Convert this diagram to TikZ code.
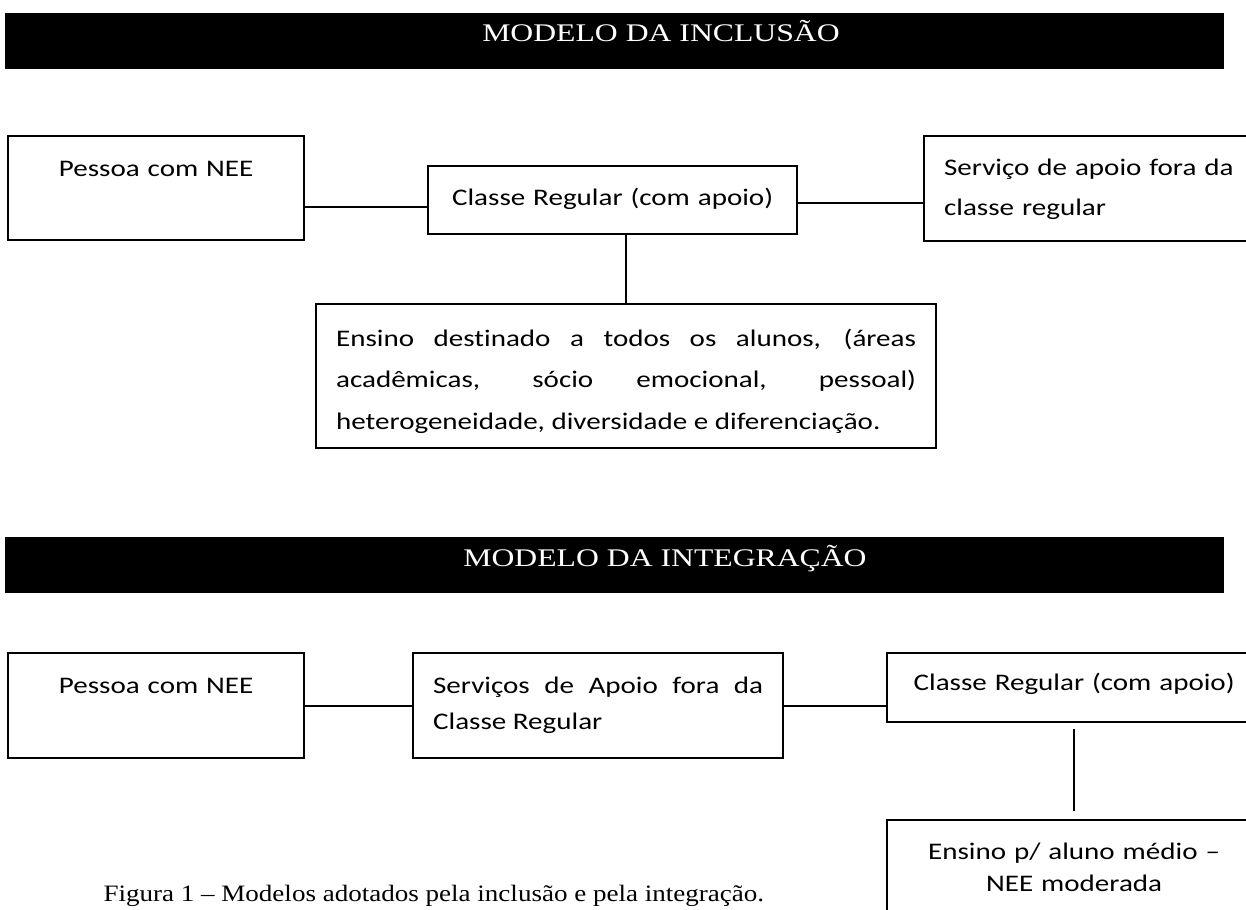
\documentclass[tikz,border=0pt]{standalone}
\usepackage{fontspec}
\setmainfont{Liberation Serif}[FakeStretch=1.25]
\newfontfamily\legfont{Liberation Serif}[FakeStretch=1.15]
\newfontfamily\calibri{Carlito}[FakeStretch=1.222, Ligatures=NoCommon]
\usepackage{tikz}
\newlength{\pxl}
\setlength{\pxl}{0.3786pt}
\hyphenpenalty=10000
\tolerance=9999

\tikzset{
	caixa/.style={draw, line width=0.85pt, inner sep=0pt, anchor=north west, font=\calibri\fontsize{9}{15.1}\selectfont},
	linha/.style={line width=0.85pt},
	fina/.style={line width=0.5pt},
	faixa/.style={fill=black, inner sep=0pt, anchor=north west, minimum width=1219\pxl, minimum height=56\pxl},
	titulo/.style={white, anchor=base, font=\fontsize{9.6}{11}\selectfont}
}

\begin{document}
\begin{tikzpicture}[x=\pxl, y=-\pxl]
	\path[use as bounding box, fill=white] (0,0) rectangle (1246,909);
	\clip (0,0) rectangle (1246,909);

	% modelo da inclusao
	\node[faixa] (fx1) at (4,12) {};
	\node[titulo] (tit1) at (661,42) {MODELO DA INCLUSÃO};

	\node[caixa, align=center, text width=296\pxl, text height=40\pxl, text depth=64\pxl] (pes1) at (7,135) {Pessoa com NEE};
	\node[caixa, align=center, text width=369\pxl, text height=39\pxl, text depth=29\pxl] (cls1) at (427,165) {Classe Regular (com apoio)};
	\node[caixa, align=left, inner xsep=20\pxl, text width=300\pxl, text height=39\pxl, text depth=66\pxl] (srv1) at (923,135) {Serviço de apoio fora da\\classe regular};
	\node[caixa, align=justify, inner xsep=20\pxl, text width=580\pxl, text height=42\pxl, text depth=102\pxl, font=\calibri\fontsize{9}{15.7}\selectfont] (ens1) at (315,303) {Ensino destinado a todos os alunos, (áreas\linebreak acadêmicas, sócio emocional, pessoal)\linebreak heterogeneidade, diversidade e diferenciação.};

	\draw[linha] ([yshift=-7\pxl]cls1.west) -- ([yshift=-7\pxl]cls1.west -| pes1.east);
	\draw[linha] ([yshift=-3\pxl]cls1.east) -- ([yshift=-3\pxl]cls1.east -| srv1.west);
	\draw[fina] (ens1.north) -- (ens1.north |- cls1.south);

	% modelo da integracao
	\node[faixa] (fx2) at (4,536) {};
	\node[titulo] (tit2) at (665,566) {MODELO DA INTEGRAÇÃO};

	\node[caixa, align=center, text width=296\pxl, text height=40\pxl, text depth=65\pxl] (pes2) at (7,652) {Pessoa com NEE};
	\node[caixa, align=justify, inner xsep=20\pxl, text width=330\pxl, text height=40\pxl, text depth=65\pxl, font=\calibri\fontsize{9}{13.6}\selectfont] (srv2) at (412,652) {Serviços de Apoio fora da\linebreak Classe Regular};
	\node[caixa, align=center, text width=374\pxl, text height=37\pxl, text depth=32\pxl] (cls2) at (886,652) {Classe Regular (com apoio)};
	\node[caixa, align=center, text width=374\pxl, text height=39\pxl, text depth=72\pxl, font=\calibri\fontsize{9}{12.1}\selectfont] (ens2) at (886,819) {Ensino p/ aluno médio –\\NEE moderada};

	\draw[linha] (pes2.east) -- (pes2.east -| srv2.west);
	\draw[linha] (srv2.east) -- (srv2.east -| cls2.west);
	\draw[fina, shorten <=6\pxl, shorten >=8\pxl] (cls2.south) -- (ens2.north);

	\node[anchor=base west, inner sep=0pt, font=\legfont\fontsize{8.9}{10}\selectfont] (leg) at (103,901) {Figura 1 – Modelos adotados pela inclusão e pela integração.};
\end{tikzpicture}
\end{document}
